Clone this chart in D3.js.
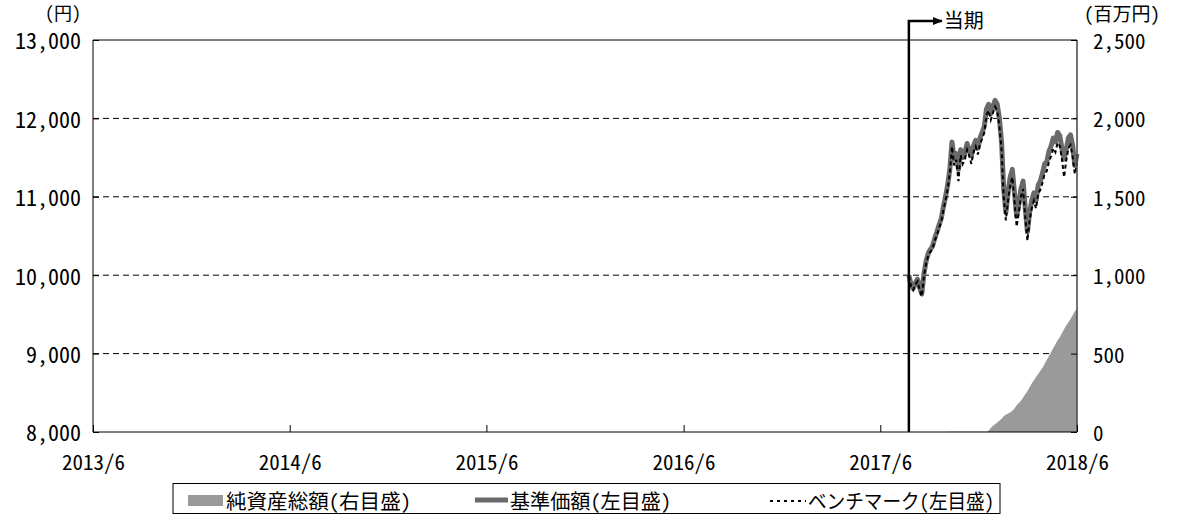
<!DOCTYPE html>
<html>
<head>
<meta charset="utf-8">
<script src="https://cdn.jsdelivr.net/npm/d3@7"></script>
<style>
  html, body { margin: 0; padding: 0; background: #fff; }
  svg { display: block; }
  text { font-family: "Noto Sans Mono CJK JP", "Noto Sans CJK JP", sans-serif; fill: #000; }
</style>
</head>
<body>
<svg id="chart" width="1181" height="514"></svg>
<script>
// ---- data ----
const dates = [
  "2017-07-24","2017-07-28","2017-08-01","2017-08-05","2017-08-09","2017-08-13","2017-08-17","2017-08-21",
  "2017-08-25","2017-08-29","2017-09-02","2017-09-06","2017-09-10","2017-09-14","2017-09-18","2017-09-22",
  "2017-09-26","2017-09-30","2017-10-04","2017-10-08","2017-10-12","2017-10-16","2017-10-20","2017-10-24",
  "2017-10-28","2017-11-01","2017-11-05","2017-11-09","2017-11-13","2017-11-17","2017-11-21","2017-11-25",
  "2017-11-29","2017-12-03","2017-12-07","2017-12-11","2017-12-15","2017-12-19","2017-12-23","2017-12-27",
  "2017-12-31","2018-01-04","2018-01-08","2018-01-12","2018-01-16","2018-01-20","2018-01-24","2018-01-28",
  "2018-02-01","2018-02-05","2018-02-09","2018-02-13","2018-02-17","2018-02-21","2018-02-25","2018-03-01",
  "2018-03-05","2018-03-09","2018-03-13","2018-03-17","2018-03-21","2018-03-25","2018-03-29","2018-04-02",
  "2018-04-06","2018-04-10","2018-04-14","2018-04-18","2018-04-22","2018-04-26","2018-04-30","2018-05-04",
  "2018-05-08","2018-05-12","2018-05-16","2018-05-20","2018-05-24","2018-05-28","2018-06-01"
];
// 基準価額 (円)
const nav = [
  10000, 9880, 9830, 9900, 9950, 9840, 9760, 10020,
  10180, 10280, 10330, 10370, 10470, 10550, 10640, 10720,
  10870, 11000, 11150, 11350, 11700, 11480, 11550, 11350,
  11600, 11500, 11560, 11680, 11600, 11520, 11650, 11720,
  11620, 11750, 11820, 11900, 12120, 12180, 12060, 12150,
  12230, 12180, 12000, 11700, 11100, 10800, 11050, 11250,
  11350, 11050, 10750, 10900, 11100, 11200, 10850, 10550,
  10800, 10950, 11050, 10950, 11150, 11200, 11300, 11420,
  11450, 11580, 11650, 11750, 11700, 11820, 11780, 11620,
  11480, 11600, 11750, 11790, 11650, 11400, 11550
];
// ベンチマーク (円)
const bench = [
  9990, 9860, 9810, 9880, 9920, 9810, 9730, 9990,
  10150, 10250, 10300, 10340, 10440, 10510, 10600, 10680,
  10830, 10950, 11100, 11300, 11640, 11400, 11470, 11200,
  11530, 11420, 11480, 11600, 11520, 11420, 11570, 11640,
  11540, 11670, 11740, 11820, 12040, 12100, 11980, 12070,
  12150, 12090, 11900, 11600, 11000, 10700, 10950, 11150,
  11250, 10950, 10620, 10800, 11000, 11100, 10740, 10440,
  10700, 10850, 10950, 10850, 11040, 11090, 11180, 11300,
  11330, 11450, 11520, 11620, 11570, 11690, 11650, 11480,
  11250, 11460, 11620, 11660, 11510, 11290, 11420
];
// 純資産総額 (百万円)
const assets = [
  0, 0, 0, 0, 0, 0, 0, 0,
  0, 0, 0, 0, 0, 0, 0, 0,
  0, 0, 2, 2, 2, 2, 2, 2,
  2, 2, 2, 2, 2, 2, 2, 2,
  2, 2, 2, 2, 2, 8, 25, 40,
  50, 60, 72, 85, 100, 110, 118, 125,
  135, 150, 170, 185, 200, 220, 240, 260,
  285, 310, 330, 350, 370, 390, 410, 435,
  460, 485, 510, 535, 560, 585, 605, 630,
  655, 680, 700, 720, 745, 770, 785
];
const leftTicks = [8000, 9000, 10000, 11000, 12000, 13000];
const rightTicks = [0, 500, 1000, 1500, 2000, 2500];
const xTickDates = ["2013-06-01","2014-06-01","2015-06-01","2016-06-01","2017-06-01","2018-06-01"];
const xTickLabels = ["2013/6","2014/6","2015/6","2016/6","2017/6","2018/6"];
const legendLabels = ["純資産総額(右目盛)", "基準価額(左目盛)", "ベンチマーク(左目盛)"];
const markerLabel = "当期";
const leftUnit = "(円)";
const rightUnit = "(百万円)";

// ---- drawing ----
const parse = d3.timeParse("%Y-%m-%d");
const rows = dates.map((d, i) => ({ date: parse(d), nav: nav[i], bench: bench[i], assets: assets[i] }));

const L = 93, R = 1077, T = 40, B = 432;
const svg = d3.select("#chart");
const x = d3.scaleTime().domain([parse("2013-06-01"), parse("2018-06-01")]).range([L, R]);
const yL = d3.scaleLinear().domain([8000, 13000]).range([B, T]);
const yR = d3.scaleLinear().domain([0, 2500]).range([B, T]);

// grid (dashed)
svg.append("g").selectAll("line").data(leftTicks.filter(v => v > 8000 && v < 13000)).join("line")
  .attr("x1", L).attr("x2", R)
  .attr("y1", d => yL(d)).attr("y2", d => yL(d))
  .attr("stroke", "#000").attr("stroke-width", 1).attr("stroke-dasharray", "6,4");

// assets area
svg.append("path").datum(rows)
  .attr("fill", "#9a9a9a")
  .attr("d", d3.area().x(d => x(d.date)).y0(yR(0)).y1(d => yR(d.assets)));

// nav line
svg.append("path").datum(rows)
  .attr("fill", "none").attr("stroke", "#6a6a6a").attr("stroke-width", 5)
  .attr("stroke-linejoin", "round")
  .attr("d", d3.line().x(d => x(d.date)).y(d => yL(d.nav)));

// benchmark line
svg.append("path").datum(rows)
  .attr("fill", "none").attr("stroke", "#000").attr("stroke-width", 2)
  .attr("stroke-dasharray", "4,3")
  .attr("d", d3.line().x(d => x(d.date)).y(d => yL(d.bench)));

// frame
svg.append("line").attr("x1", L).attr("x2", R).attr("y1", T).attr("y2", T).attr("stroke", "#000").attr("stroke-width", 1);
svg.append("line").attr("x1", L).attr("x2", R).attr("y1", B).attr("y2", B).attr("stroke", "#000").attr("stroke-width", 1);
svg.append("line").attr("x1", L).attr("x2", L).attr("y1", T).attr("y2", B).attr("stroke", "#000").attr("stroke-width", 1);
svg.append("line").attr("x1", R).attr("x2", R).attr("y1", T).attr("y2", B).attr("stroke", "#444").attr("stroke-width", 1.5);

// axes
const axL = d3.axisLeft(yL).tickValues(leftTicks).tickSizeInner(-6).tickSizeOuter(0)
  .tickPadding(12).tickFormat(d3.format(","));
const gL = svg.append("g").attr("transform", `translate(${L},0)`).call(axL);
const axR = d3.axisRight(yR).tickValues(rightTicks).tickSizeInner(-6).tickSizeOuter(0)
  .tickPadding(16).tickFormat(d3.format(","));
const gR = svg.append("g").attr("transform", `translate(${R},0)`).call(axR);
const xTickMap = new Map(xTickDates.map((d, i) => [+parse(d), xTickLabels[i]]));
const axB = d3.axisBottom(x).tickValues(xTickDates.map(parse)).tickSizeInner(-7).tickSizeOuter(0)
  .tickPadding(29).tickFormat(d => xTickMap.get(+d));
const gB = svg.append("g").attr("transform", `translate(0,${B})`).call(axB);
[gL, gR, gB].forEach(g => {
  g.select(".domain").remove();
  g.selectAll(".tick line").attr("stroke", "#000");
  g.selectAll("text").attr("font-size", 22).attr("font-family", "'Noto Sans Mono CJK JP','Noto Sans CJK JP',sans-serif").attr("fill", "#000");
});
gB.selectAll("text").attr("font-size", 21);
gR.selectAll("text").attr("font-size", 21);
gL.selectAll("text").attr("dy", "0.4em").attr("x", -12);
gR.selectAll("text").attr("dy", "0.4em");
gB.selectAll("text").attr("dy", "0.42em");

// unit labels
svg.append("text").attr("x", 81).attr("y", 12).attr("text-anchor", "end")
  .attr("dominant-baseline", "central").attr("font-size", 18).text(leftUnit);
svg.append("text").attr("x", 1084).attr("y", 12).attr("text-anchor", "start")
  .attr("dominant-baseline", "central").attr("font-size", 19).text(rightUnit);

// 当期 marker
const mx = x(rows[0].date);
svg.append("defs").append("marker").attr("id", "arr").attr("viewBox", "0 0 10 10")
  .attr("refX", 9).attr("refY", 5).attr("markerWidth", 4).attr("markerHeight", 4)
  .attr("orient", "auto").attr("markerUnits", "strokeWidth")
  .append("path").attr("d", "M0,1 L10,5 L0,9 Z").attr("fill", "#000");
svg.append("path")
  .attr("d", `M${mx},${B} L${mx},21 L${mx + 33},21`)
  .attr("fill", "none").attr("stroke", "#000").attr("stroke-width", 2.5)
  .attr("marker-end", "url(#arr)");
svg.append("text").attr("x", mx + 35).attr("y", 19).attr("dominant-baseline", "central")
  .attr("font-size", 20).text(markerLabel);

// legend
const lg = svg.append("g");
lg.append("rect").attr("x", 173).attr("y", 483.5).attr("width", 827).attr("height", 30)
  .attr("fill", "#fff").attr("stroke", "#000").attr("stroke-width", 1);
lg.append("rect").attr("x", 188).attr("y", 495).attr("width", 35).attr("height", 11).attr("fill", "#9a9a9a");
lg.append("line").attr("x1", 475).attr("x2", 508).attr("y1", 500).attr("y2", 500)
  .attr("stroke", "#6a6a6a").attr("stroke-width", 5);
lg.append("line").attr("x1", 770).attr("x2", 806).attr("y1", 501).attr("y2", 501)
  .attr("stroke", "#000").attr("stroke-width", 2).attr("stroke-dasharray", "3,4");
const legX = [226, 510, 808];
const legW = [185, 161, 186];
legendLabels.forEach((t, i) => {
  lg.append("text").attr("x", legX[i]).attr("y", 500).attr("dominant-baseline", "central")
    .attr("font-size", 20).attr("textLength", legW[i]).attr("lengthAdjust", "spacingAndGlyphs").text(t);
});
</script>
</body>
</html>
